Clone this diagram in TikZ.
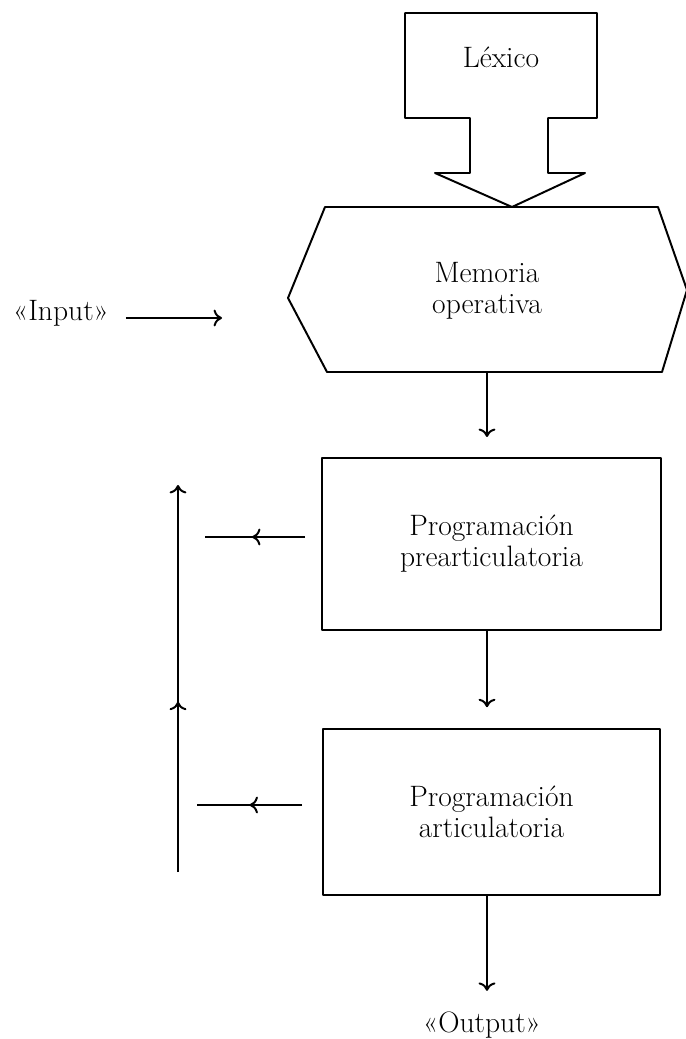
\documentclass[tikz,border=0pt]{standalone}
\usepackage{tikz}
\usetikzlibrary{arrows.meta,decorations.markings,positioning}
\tikzset{
  texto/.style={align=center, font=\fontsize{21}{22}\selectfont},
  caja/.style={texto, draw, line width=1.4pt},
  flecha/.style={line width=1.4pt, -{To[length=6pt,width=12pt]}},
  flechamedia/.style={line width=1.4pt, postaction={decorate},
    decoration={markings, mark=at position #1 with {\arrow{To[length=6pt,width=12pt]}}}}
}

\begin{document}
\begin{tikzpicture}[x=0.025cm, y=-0.025cm, line join=round]
    \useasboundingbox (0,0) rectangle (685,1039);
    % LEXICO
    \draw[line width=1.4pt] (405,13) -- (597,13) -- (597,118) -- (548,118) -- (548,173)
      -- (585,173) -- (512,207) -- (435,173) -- (470,173) -- (470,118) -- (405,118) -- cycle;
    \node[texto] (lexico) at (501,57) {Léxico};
    % MEMORIA OPERATIVA
    \draw[line width=1.4pt] (325,207) -- (658,207) -- (687,290) -- (662,372)
      -- (327,372) -- (288,298) -- cycle;
    \node[texto] (memoria) at (487,291) {Memoria\\operativa};
    \coordinate (memoS) at (487,372);
    % INPUT
    \node[texto] (input) at (61,313) {«Input»};
    \coordinate (inputfin) at (222,318);
    \draw[flecha, shorten <=0.3cm] (input.east |- inputfin) -- (inputfin);
    % PROGRAMACION
    \node[caja, minimum width=8.475cm, minimum height=4.3cm] (prear) at (491.5,544)
      {Programación\\prearticulatoria};
    \node[caja, minimum width=8.425cm, minimum height=4.15cm] (artic) at (491.5,812)
      {Programación\\articulatoria};
    % OUTPUT
    \node[texto] (output) at (482,1025) {«Output»};
    % arrows down
    \draw[flecha, shorten >=0.5cm] (memoS) -- (memoS |- prear.north);
    \draw[flecha, shorten >=0.52cm] (prear.south -| memoS) -- (memoS |- artic.north);
    \draw[flecha, shorten >=0.4cm] (artic.south -| memoS) -- (output.north -| memoS);
    % feedback
    \coordinate (retroAini) at (305,537);
    \coordinate (retroAfin) at (205,537);
    \coordinate (retroBini) at (302,805);
    \coordinate (retroBfin) at (197,805);
    \coordinate (retroini) at (178,872);
    \coordinate (retrofin) at (178,485);
    \draw[flechamedia=0.53] (retroAini) -- (retroAfin);
    \draw[flechamedia=0.5] (retroBini) -- (retroBfin);
    \draw[flecha, flechamedia=0.44] (retroini) -- (retrofin);
\end{tikzpicture}
\end{document}
